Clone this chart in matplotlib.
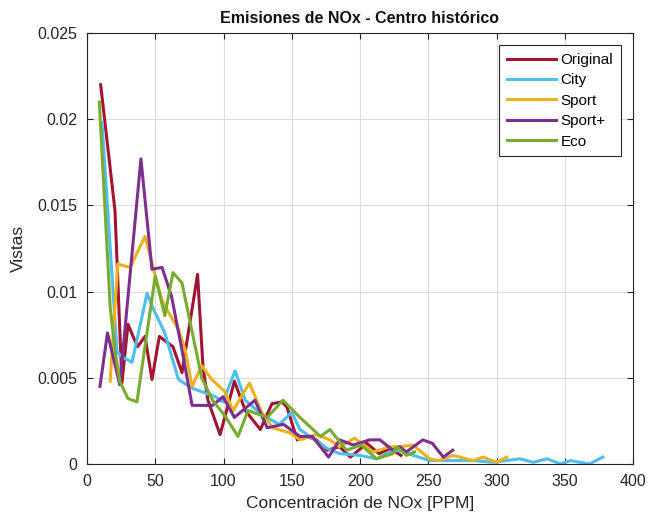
import matplotlib
matplotlib.use("Agg")
import matplotlib.pyplot as plt

plt.rcParams['font.family'] = ['Liberation Sans', 'DejaVu Sans']

title = "Emisiones de NOx - Centro histórico"
xlabel = "Concentración de NOx [PPM]"
ylabel = "Vistas"

orig_x = [10, 20.5, 25.6, 30, 37, 42.5, 47.6, 53, 63, 69.6, 81, 85, 88.6, 97.5, 108, 116, 127, 135.5, 143, 146.5, 154, 161, 168, 176, 185, 193, 205, 214, 222, 230]
orig_y = [0.022, 0.0147, 0.0047, 0.0081, 0.0068, 0.0074, 0.0049, 0.0074, 0.0068, 0.0053, 0.011, 0.0056, 0.0037, 0.0017, 0.0048, 0.0031, 0.002, 0.0035, 0.0036, 0.0033, 0.0014, 0.0016, 0.0014, 0.0008, 0.0010, 0.0004, 0.0012, 0.0006, 0.0009, 0.0005]

city_x = [11, 22, 26, 33, 44, 48, 57, 67, 77, 94, 99.6, 108.5, 116, 129, 141, 150, 156, 176, 185, 200, 212, 222, 229, 239, 251, 265, 283, 298, 307, 317, 327, 337, 347, 354, 361, 368, 378]
city_y = [0.0198, 0.0065, 0.0062, 0.0059, 0.0099, 0.0091, 0.0076, 0.0049, 0.0044, 0.0039, 0.0036, 0.0054, 0.0037, 0.0028, 0.0023, 0.003, 0.002, 0.0009, 0.0006, 0.0005, 0.0003, 0.0007, 0.0008, 0.0005, 0.0002, 0.0002, 0.0002, 0.0001, 0.0002, 0.0003, 0.0001, 0.0003, 0.0, 0.0002, 0.0001, 0.0, 0.0004]

sport_x = [17, 22.5, 31.5, 42.5, 50, 55, 59, 67, 72, 77, 84, 91.5, 101, 107, 119, 128, 136, 149, 156, 168, 178, 185, 196, 209.5, 222, 229, 239, 251, 258, 268, 283, 290, 300, 307.6]
sport_y = [0.0048, 0.0116, 0.0114, 0.0132, 0.0109, 0.0095, 0.0089, 0.0078, 0.0066, 0.0045, 0.0057, 0.0049, 0.0042, 0.0031, 0.0047, 0.003, 0.0021, 0.0018, 0.0014, 0.0017, 0.0014, 0.001, 0.0015, 0.0007, 0.001, 0.001, 0.0011, 0.0003, 0.0002, 0.0005, 0.0002, 0.0004, 0.0001, 0.0004]

sportp_x = [9.5, 15, 24, 39.5, 47.6, 55, 62, 69.6, 77, 92, 99.6, 108, 123, 132, 144, 156, 165, 177, 185, 195, 207, 214.6, 224, 229, 234, 246, 253, 261, 268]
sportp_y = [0.0045, 0.0076, 0.0046, 0.0177, 0.0113, 0.0114, 0.0097, 0.0066, 0.0034, 0.0034, 0.0039, 0.0027, 0.0037, 0.0021, 0.0023, 0.0016, 0.0016, 0.0004, 0.0014, 0.0011, 0.0014, 0.0014, 0.0008, 0.001, 0.0007, 0.0014, 0.0012, 0.0004, 0.0008]

eco_x = [9, 17, 20.5, 24, 30, 36.6, 50, 57, 63, 69.6, 84, 92, 101, 110.6, 118, 132, 143.6, 156, 171, 178, 190, 201, 212, 224, 227, 234, 240]
eco_y = [0.021, 0.0091, 0.0066, 0.0048, 0.0038, 0.0036, 0.0109, 0.0086, 0.0111, 0.0105, 0.005, 0.0037, 0.0028, 0.0016, 0.0031, 0.0027, 0.0037, 0.0027, 0.0016, 0.002, 0.0008, 0.0011, 0.0003, 0.0006, 0.001, 0.0005, 0.0007]

series = [
    ("Original", orig_x, orig_y, "#A2142F"),
    ("City", city_x, city_y, "#4DBEEE"),
    ("Sport", sport_x, sport_y, "#EDB120"),
    ("Sport+", sportp_x, sportp_y, "#7E2F8E"),
    ("Eco", eco_x, eco_y, "#77AC30"),
]

fig = plt.figure(figsize=(6.53, 5.21), dpi=100)
ax = fig.add_axes([87/653, 57/521, 546/653, 431/521])

for name, xs, ys, c in series:
    ax.plot(xs, ys, color=c, lw=2.2, label=name)

ax.set_xlim(0, 400)
ax.set_ylim(0, 0.025)
ax.set_xticks(range(0, 401, 50))
ax.set_yticks([0, 0.005, 0.01, 0.015, 0.02, 0.025])
ax.set_yticklabels(["0", "0.005", "0.01", "0.015", "0.02", "0.025"])
ax.grid(True, color="#dcdcdc", lw=0.8)
ax.set_axisbelow(True)
ax.tick_params(direction="in", length=4, labelsize=11.5, colors="#262626", top=True, right=True, pad=7)
for s in ax.spines.values():
    s.set_color("#262626")
    s.set_linewidth(0.8)
ax.set_title(title, fontsize=11.5, fontweight="bold", color="#111111", pad=7)
ax.set_xlabel(xlabel, fontsize=12.5, color="#262626", labelpad=5)
ax.set_ylabel(ylabel, fontsize=12.5, color="#262626", labelpad=8)

leg = ax.legend(loc="upper right", fontsize=11, handlelength=3.2, borderaxespad=0.8,
                fancybox=False, framealpha=1, edgecolor="#262626", handletextpad=0.3,
                labelspacing=0.42, borderpad=0.5)
leg.get_frame().set_linewidth(0.8)

fig.savefig("out.png", dpi=100)
